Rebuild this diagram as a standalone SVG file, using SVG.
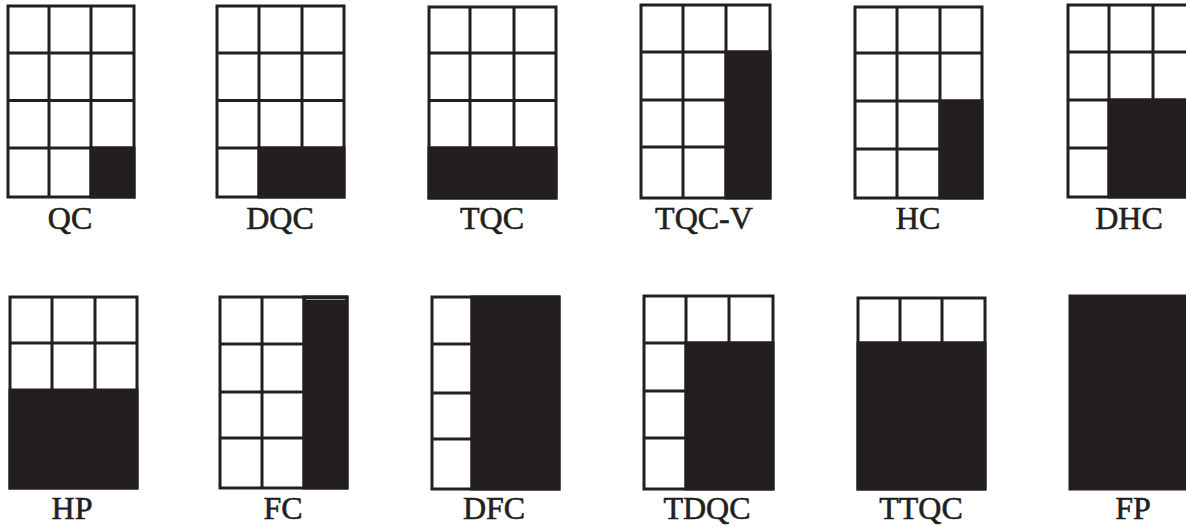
<svg xmlns="http://www.w3.org/2000/svg" width="1186" height="526" viewBox="0 0 1186 526">
<style>
.box{fill:#ffffff;stroke:#231f20;stroke-width:3}
.ln{fill:none;stroke:#231f20;stroke-width:3}
.blk{fill:#231f20;stroke:#231f20;stroke-width:3}
.lbl{font-family:"Liberation Serif","Times New Roman",serif;font-size:32px;fill:#231f20;stroke:#231f20;stroke-width:0.6;text-anchor:middle}
</style>
<rect width="1186" height="526" fill="#ffffff"/>
<g id="QC">
<rect class="box" x="8" y="6" width="126" height="191"/>
<path class="ln" d="M49 6V197M91 6V197M8 53H134M8 100.5H134M8 148H134"/>
<rect class="blk" x="91" y="148" width="43" height="49"/>
<text class="lbl" x="70" y="229">QC</text>
</g>
<g id="DQC">
<rect class="box" x="217" y="6" width="127" height="191"/>
<path class="ln" d="M259 6V197M302 6V197M217 53H344M217 100.5H344M217 148H344"/>
<rect class="blk" x="259" y="148" width="85" height="49"/>
<text class="lbl" x="280" y="229">DQC</text>
</g>
<g id="TQC">
<rect class="box" x="429" y="7" width="127" height="191"/>
<path class="ln" d="M470 7V198M514 7V198M429 53H556M429 100.5H556M429 148H556"/>
<rect class="blk" x="429" y="148" width="127" height="50"/>
<text class="lbl" x="492" y="229">TQC</text>
</g>
<g id="TQC-V">
<rect class="box" x="641" y="5" width="129" height="193"/>
<path class="ln" d="M683 5V198M726 5V198M641 52H770M641 100H770M641 147H770"/>
<rect class="blk" x="726" y="52" width="44" height="146"/>
<text class="lbl" x="704" y="229">TQC-V</text>
</g>
<g id="HC">
<rect class="box" x="855" y="7" width="127" height="191"/>
<path class="ln" d="M897 7V198M940 7V198M855 53H982M855 101H982M855 149H982"/>
<rect class="blk" x="940" y="101" width="42" height="97"/>
<text class="lbl" x="918" y="229">HC</text>
</g>
<g id="DHC">
<rect class="box" x="1068" y="5" width="127" height="192"/>
<path class="ln" d="M1109 5V197M1153 5V197M1068 52H1195M1068 100H1195M1068 148H1195"/>
<rect class="blk" x="1109" y="100" width="86" height="97"/>
<text class="lbl" x="1129" y="229">DHC</text>
</g>
<g id="HP">
<rect class="box" x="10" y="297" width="127" height="191"/>
<path class="ln" d="M52 297V488M95 297V488M10 343H137"/>
<rect class="blk" x="10" y="390" width="127" height="98"/>
<text class="lbl" x="72" y="519">HP</text>
</g>
<g id="FC">
<rect class="box" x="220" y="297" width="127" height="191"/>
<path class="ln" d="M262 297V488M304 297V488M220 344H347M220 392H347M220 438H347"/>
<rect class="blk" x="304" y="297" width="43" height="191"/>
<path d="M306 299.5H345" stroke="#bdbbbb" stroke-width="0.8" fill="none"/>
<text class="lbl" x="283" y="519">FC</text>
</g>
<g id="DFC">
<rect class="box" x="432" y="297" width="127" height="192"/>
<path class="ln" d="M472 297V489M432 344H559M432 393H559M432 439H559"/>
<rect class="blk" x="472" y="297" width="87" height="192"/>
<text class="lbl" x="494" y="519">DFC</text>
</g>
<g id="TDQC">
<rect class="box" x="644" y="296" width="129" height="193"/>
<path class="ln" d="M686 296V489M729 296V489M644 343H773M644 391H773M644 438H773"/>
<rect class="blk" x="686" y="343" width="87" height="146"/>
<text class="lbl" x="707" y="519">TDQC</text>
</g>
<g id="TTQC">
<rect class="box" x="858" y="298" width="127" height="191"/>
<path class="ln" d="M900 298V489M942 298V489M858 343H985"/>
<rect class="blk" x="858" y="343" width="127" height="146"/>
<text class="lbl" x="921" y="519">TTQC</text>
</g>
<g id="FP">
<rect class="blk" x="1070" y="296" width="127" height="193"/>
<text class="lbl" x="1133" y="519">FP</text>
</g>
<g id="connectors"></g>
</svg>
